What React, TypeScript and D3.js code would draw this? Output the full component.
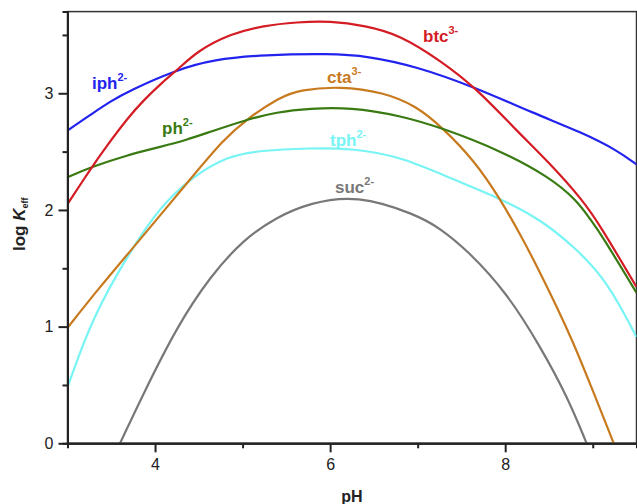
import * as d3 from "d3";
import { useEffect, useRef } from "react";

// values (pH vs log Keff)
const btcPH = [3.0, 3.28, 3.41, 3.7, 3.87, 4.09, 4.27, 4.48, 4.86, 5.24, 5.62, 6.0, 6.4, 6.8, 7.26, 7.66, 8.13, 8.51, 8.89, 9.09, 9.5];
const btcK = [2.05, 2.37, 2.51, 2.8, 2.94, 3.1, 3.21, 3.36, 3.51, 3.58, 3.61, 3.62, 3.58, 3.5, 3.28, 3.05, 2.68, 2.4, 2.08, 1.86, 1.34];

const iphPH = [3.0, 3.29, 3.49, 3.7, 4.24, 4.67, 5.24, 6.0, 6.42, 6.99, 7.66, 8.32, 8.89, 9.28, 9.5];
const iphK = [2.68, 2.83, 2.93, 3.02, 3.2, 3.29, 3.33, 3.34, 3.32, 3.23, 3.05, 2.83, 2.66, 2.51, 2.39];

const ctaPH = [3.0, 3.37, 3.71, 4.42, 4.78, 5.03, 5.43, 5.66, 6.11, 6.61, 6.99, 7.29, 7.64, 7.94, 8.21, 8.4, 8.59, 8.78, 8.97, 9.24];
const ctaK = [0.99, 1.34, 1.64, 2.28, 2.6, 2.77, 2.97, 3.03, 3.06, 3.01, 2.89, 2.7, 2.43, 2.1, 1.74, 1.46, 1.17, 0.86, 0.51, 0.0];

const phPH = [3.0, 3.28, 3.68, 4.06, 4.36, 4.63, 5.03, 5.39, 5.77, 6.23, 6.8, 7.29, 7.94, 8.51, 8.82, 8.97, 9.09, 9.5];
const phK = [2.28, 2.37, 2.47, 2.54, 2.6, 2.67, 2.77, 2.84, 2.87, 2.88, 2.81, 2.7, 2.51, 2.28, 2.08, 1.92, 1.8, 1.29];

const tphPH = [3.0, 3.29, 3.71, 4.06, 4.42, 4.82, 5.2, 5.77, 6.23, 6.8, 7.41, 7.94, 8.4, 8.78, 9.16, 9.5];
const tphK = [0.48, 1.09, 1.64, 2.03, 2.28, 2.46, 2.51, 2.53, 2.53, 2.46, 2.26, 2.1, 1.92, 1.69, 1.4, 0.91];

const sucPH = [3.6, 3.87, 4.25, 4.63, 5.0, 5.39, 5.77, 6.3, 6.99, 7.26, 7.56, 8.02, 8.4, 8.71, 8.93];
const sucK = [0.0, 0.43, 1.0, 1.43, 1.74, 1.94, 2.06, 2.13, 1.96, 1.84, 1.66, 1.29, 0.83, 0.4, 0.0];

const xMajor = [4, 6, 8];
const xMinor = [5, 7, 9];
const yMajor = [0, 1, 2, 3];
const yMinor = [0.5, 1.5, 2.5, 3.5];

const series = [
  { name: "suc", charge: "2-", ph: sucPH, k: sucK, color: "#787878", lx: 335, ly: 193 },
  { name: "tph", charge: "2-", ph: tphPH, k: tphK, color: "#78f4f4", lx: 330, ly: 146 },
  { name: "cta", charge: "3-", ph: ctaPH, k: ctaK, color: "#c87a1e", lx: 327, ly: 83 },
  { name: "ph", charge: "2-", ph: phPH, k: phK, color: "#3a7a12", lx: 162, ly: 134 },
  { name: "iph", charge: "2-", ph: iphPH, k: iphK, color: "#2323f0", lx: 92, ly: 89 },
  { name: "btc", charge: "3-", ph: btcPH, k: btcK, color: "#d41c24", lx: 423, ly: 42 },
];

const W = 637;
const H = 504;
const left = 67.5;
const right = 636.5;
const top = 11.6;
const bottom = 443.3;
const font = "'Liberation Sans', Arial, sans-serif";

function Chart() {
  const svgRef = useRef(null);

  const x = d3.scaleLinear().domain([3, 9.5]).range([left, right]);
  const y = d3.scaleLinear().domain([0, 3.7]).range([bottom, top]);

  const line = d3
    .line<[number, number]>()
    .x((d) => x(d[0]))
    .y((d) => y(d[1]))
    .curve(d3.curveBasis);

  useEffect(() => {
    const svg = d3.select(svgRef.current);

    const styleAxis = (g) => {
      g.selectAll("path").attr("stroke", "#222").attr("stroke-width", 2);
      g.selectAll("line").attr("stroke", "#222").attr("stroke-width", 2);
      g.selectAll("text")
        .attr("font-family", font)
        .attr("font-size", 16)
        .attr("fill", "#222");
    };

    svg
      .select(".x-minor")
      .attr("transform", `translate(0,${bottom})`)
      .call(d3.axisBottom(x).tickValues(xMinor).tickSize(5).tickFormat(() => ""))
      .call(styleAxis);
    svg
      .select(".x-axis")
      .attr("transform", `translate(0,${bottom})`)
      .call(d3.axisBottom(x).tickValues(xMajor).tickSize(9).tickSizeOuter(0).tickPadding(6).tickFormat(d3.format("d")))
      .call(styleAxis);

    svg
      .select(".y-minor")
      .attr("transform", `translate(${left},0)`)
      .call(d3.axisLeft(y).tickValues(yMinor).tickSize(5).tickFormat(() => ""))
      .call(styleAxis);
    svg
      .select(".y-axis")
      .attr("transform", `translate(${left},0)`)
      .call(d3.axisLeft(y).tickValues(yMajor).tickSize(9).tickSizeOuter(0).tickPadding(5).tickFormat(d3.format("d")))
      .call(styleAxis);
  }, []);

  return (
    <svg
      ref={svgRef}
      width={W}
      height={H}
      style={{ position: "absolute", left: 0, top: 0, background: "#fff" }}
    >
      <defs>
        <clipPath id="plot">
          <rect x={left} y={top} width={right - left} height={bottom - top} />
        </clipPath>
      </defs>
      <rect x={left} y={top} width={right - left} height={bottom - top} fill="none" stroke="#333" strokeWidth={1.5} />
      <g clipPath="url(#plot)">
        {series.map((s) => (
          <path
            key={s.name}
            d={line(s.ph.map((p, i) => [p, s.k[i]] as [number, number])) || ""}
            fill="none"
            stroke={s.color}
            strokeWidth={2.2}
          />
        ))}
      </g>
      <g className="x-minor"></g>
      <g className="x-axis"></g>
      <g className="y-minor"></g>
      <g className="y-axis"></g>
      {series.map((s) => (
        <text key={s.name} x={s.lx} y={s.ly} fill={s.color} fontFamily={font} fontWeight="bold" fontSize={17}>
          {s.name}
          <tspan dy={-8} fontSize={11}>{s.charge}</tspan>
        </text>
      ))}
      <text x={352} y={502} textAnchor="middle" fontFamily={font} fontWeight="bold" fontSize={16} fill="#222">
        pH
      </text>
      <text
        transform={`translate(25,251) rotate(-90)`}
        fontFamily={font}
        fontWeight="bold"
        fontSize={17}
        fill="#222"
      >
        log <tspan fontStyle="italic">K</tspan>
        <tspan fontSize={9} dy={3}>eff</tspan>
      </text>
    </svg>
  );
}

export default function App() {
  return <Chart />;
}
